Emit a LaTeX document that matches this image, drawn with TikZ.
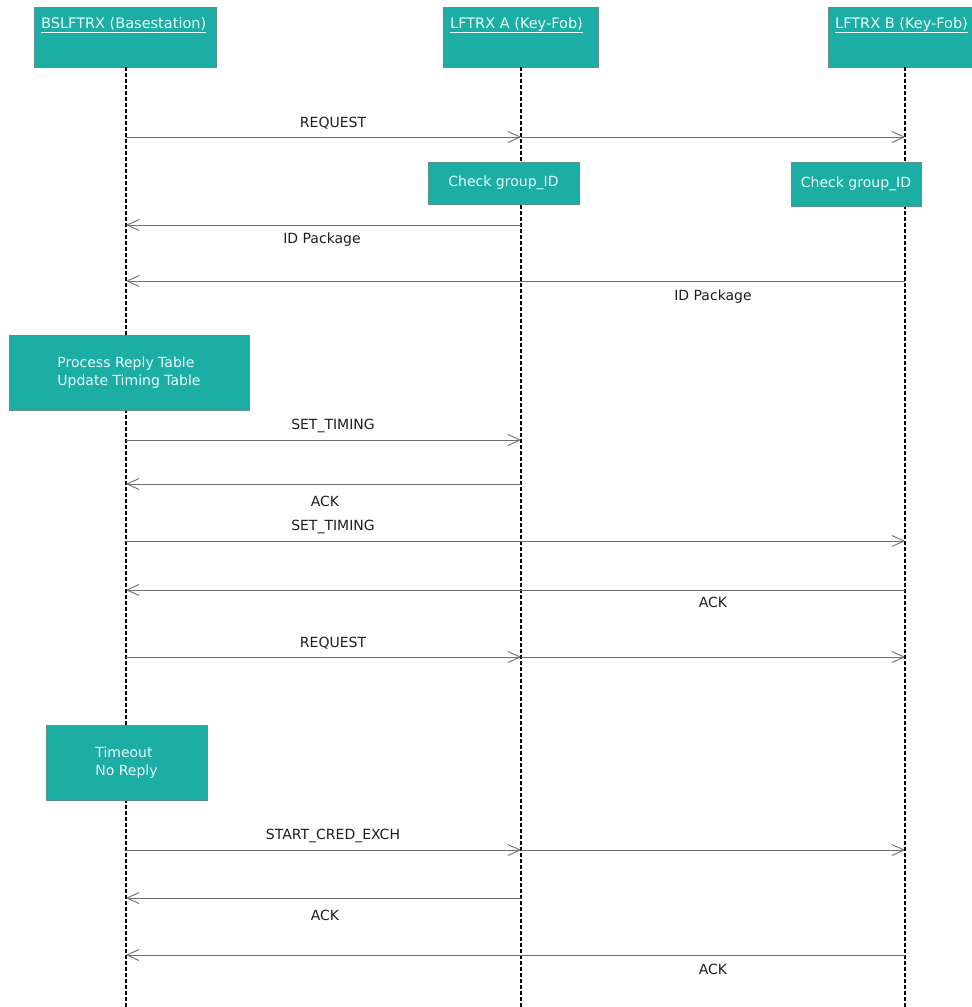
\documentclass[tikz,border=0pt]{standalone}
\usepackage{fontspec}
\setmainfont{DejaVu Sans}
\usetikzlibrary{arrows.meta}
\definecolor{boxfill}{HTML}{1CADA5}
\definecolor{boxedge}{HTML}{5E8F8B}
\definecolor{boxtext}{HTML}{E6FFFC}
\definecolor{msgline}{HTML}{6E6E6E}
\definecolor{msgtext}{HTML}{1E1E1E}
\tikzset{
  lbl/.style={font=\fontsize{14}{16}\selectfont, text=msgtext, inner sep=0pt},
  actor/.style={draw=boxedge, fill=boxfill, line width=0.8pt},
  actortext/.style={font=\fontsize{14.5}{16}\selectfont, text=boxtext, anchor=west, inner sep=0pt},
  note/.style={draw=boxedge, fill=boxfill, line width=0.8pt, font=\fontsize{14}{18}\selectfont,
    text=boxtext, align=left, inner sep=0pt},
  lifeline/.style={line width=1.1pt, dash pattern=on 3.5pt off 2.5pt},
  msg/.style={draw=msgline, line width=0.9pt, -{Straight Barb[length=12pt,width=11pt,line width=0.9pt]}},
}
\begin{document}
\begin{tikzpicture}[x=1pt,y=-1pt]
\useasboundingbox (0,0) rectangle (972,1007);
\fill[white] (0,0) rectangle (972,1007);

% actor heads
\node[actor, minimum width=182pt, minimum height=60pt, inner sep=0pt] (hA) at (125,37) {};
\node[actor, minimum width=155pt, minimum height=60pt, inner sep=0pt] (hB) at (520.5,37) {};
\node[actor, minimum width=160pt, minimum height=60pt, inner sep=0pt] (hC) at (908,37) {};
\node[actortext] (tA) at (41,25) {\underline{BSLFTRX (Basestation)}};
\node[actortext] (tB) at (450,25) {\underline{LFTRX A (Key-Fob)}};
\node[actortext] (tC) at (835,25) {\underline{LFTRX B (Key-Fob)}};

% lifelines
\coordinate (eA) at (126,1007);
\coordinate (eB) at (521,1007);
\coordinate (eC) at (905,1007);
\draw[lifeline] (hA.south -| eA) -- (eA);
\draw[lifeline] (hB.south -| eB) -- (eB);
\draw[lifeline] (hC.south -| eC) -- (eC);

% notes on the lifelines
\node[note, minimum width=151pt, minimum height=42pt] (nB) at (503.5,183) {Check group\_ID};
\node[note, minimum width=130pt, minimum height=44pt] (nC) at (856,184) {Check group\_ID};
\node[note, minimum width=240pt, minimum height=75pt] (nP) at (129,372.5) {Process Reply Table\\Update Timing Table};
\node[note, minimum width=161pt, minimum height=75pt] (nT) at (126.5,762.5) {Timeout\\No Reply};

% message end points
\foreach \n/\y in {1/137,2/225,3/281,4/440,5/484,6/541,7/590,8/657,9/850,10/898,11/955}{
  \coordinate (a\n) at (126,\y);
  \coordinate (b\n) at (521,\y);
  \coordinate (c\n) at (905,\y);
}

% messages
\draw[msg] (a1) -- (b1);  \draw[msg] (b1) -- (c1);
\node[lbl] (m1) at (333,123) {REQUEST};
\draw[msg] (b2) -- (a2);
\node[lbl] (m2) at (322,240) {ID Package};
\draw[msg] (c3) -- (a3);
\node[lbl] (m3) at (713,297) {ID Package};
\draw[msg] (a4) -- (b4);
\node[lbl] (m4) at (333,426) {SET\_TIMING};
\draw[msg] (b5) -- (a5);
\node[lbl] (m5) at (325,501) {ACK};
\draw[msg] (a6) -- (c6);
\node[lbl] (m6) at (333,527) {SET\_TIMING};
\draw[msg] (c7) -- (a7);
\node[lbl] (m7) at (713,602) {ACK};
\draw[msg] (a8) -- (b8);  \draw[msg] (b8) -- (c8);
\node[lbl] (m8) at (333,643) {REQUEST};
\draw[msg] (a9) -- (b9);  \draw[msg] (b9) -- (c9);
\node[lbl] (m9) at (333,836) {START\_CRED\_EXCH};
\draw[msg] (b10) -- (a10);
\node[lbl] (m10) at (325,915) {ACK};
\draw[msg] (c11) -- (a11);
\node[lbl] (m11) at (713,969) {ACK};
\end{tikzpicture}
\end{document}
